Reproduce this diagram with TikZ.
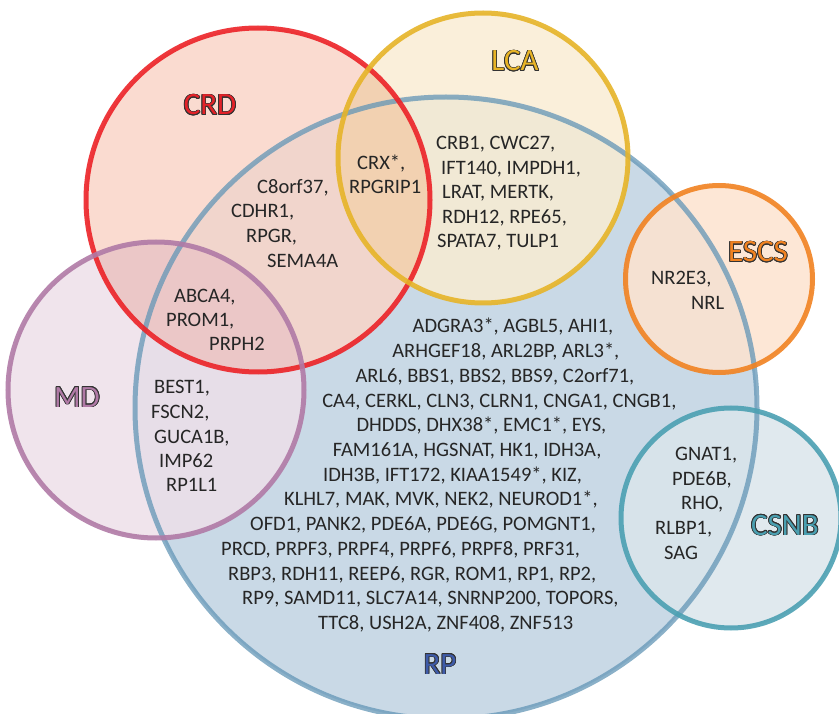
\documentclass[tikz,border=0pt]{standalone}
\usepackage{fontspec}
\setmainfont{Carlito}
\usepackage{contour}
\contourlength{0.8pt}

\definecolor{genetext}{HTML}{262626}
\definecolor{fillrp}{HTML}{C9D9E6}
\definecolor{linerp}{HTML}{6396B6}
\definecolor{textrp}{HTML}{3E5BA8}
\definecolor{fillcrd}{HTML}{F9D5C8}
\definecolor{linecrd}{HTML}{EC2227}
\definecolor{textcrd}{HTML}{E32228}
\definecolor{filllca}{HTML}{F9ECD3}
\definecolor{linelca}{HTML}{E6B428}
\definecolor{textlca}{HTML}{E8B426}
\definecolor{fillmd}{HTML}{EDDFE9}
\definecolor{linemd}{HTML}{B07AA6}
\definecolor{textmd}{HTML}{B07AA6}
\definecolor{fillescs}{HTML}{FDE3CF}
\definecolor{lineescs}{HTML}{F18221}
\definecolor{textescs}{HTML}{F08221}
\definecolor{fillcsnb}{HTML}{DAE5EB}
\definecolor{linecsnb}{HTML}{4BA0B2}
\definecolor{textcsnb}{HTML}{4A9FB0}
\definecolor{crdlca}{HTML}{EFC29D}
\definecolor{crdmd}{HTML}{EAB9B5}

\begin{document}
\begin{tikzpicture}[x=1pt, y=-1pt,
	gene/.style={inner sep=0pt, text=genetext, font=\fontsize{20.5}{24.7}\selectfont},
	title/.style={inner sep=0pt, anchor=base, font=\fontsize{31}{31}\selectfont},
	ring/.style={line width=5pt}]

	\useasboundingbox (0,0) rectangle (839,714);

	% circle centres
	\coordinate (rp) at (446,408);
	\coordinate (crd) at (258,200);
	\coordinate (lca) at (483,158);
	\coordinate (md) at (156,390);
	\coordinate (escs) at (719,279);
	\coordinate (csnb) at (731,518);

	% fills
	\fill [fillrp] (rp) circle [radius=311pt];
	\foreach \c/\r in {crd/172, lca/145, md/148, escs/93.5, csnb/110}
		\fill [fill=fill\c, fill opacity=.85] (\c) circle [radius=\r pt];

	\begin{scope}
		\clip (crd) circle [radius=172pt];
		\fill [crdlca, fill opacity=.6] (lca) circle [radius=145pt];
		\fill [crdmd, fill opacity=.6] (md) circle [radius=148pt];
	\end{scope}

	% outlines
	\draw [ring, draw=linerp, draw opacity=.75] (rp) circle [radius=311pt];
	\foreach \c/\r in {crd/172, lca/145, md/148, escs/93.5, csnb/110}
		\draw [ring, draw=line\c, draw opacity=.9] (\c) circle [radius=\r pt];

	% titles
	\node [title, text=textcrd] (crd-title) at (210,115) {\contour{black!80}{CRD}};
	\node [title, text=textlca] (lca-title) at (515,71) {\contour{black!80}{LCA}};
	\node [title, text=textmd] (md-title) at (77,407) {\contour{black!80}{MD}};
	\node [title, text=textescs] (escs-title) at (758,262) {\contour{black!80}{ESCS}};
	\node [title, text=textcsnb] (csnb-title) at (785,535) {\contour{black!80}{CSNB}};
	\node [title, text=textrp] (rp-title) at (440,674) {\contour{black!80}{RP}};

	% gene lists
	\foreach \x/\y/\t [count=\i] in {257/193.6/{C8orf37,}, 231/217.6/{CDHR1,}, 246/242.6/{RPGR,}, 267/267.6/{SEMA4A}}
		\node [gene, anchor=base west] (crd-\i) at (\x,\y) {\t};

	\foreach \x/\y/\t [count=\i] in {357/169.6/{CRX*,}, 349/193.6/{RPGRIP1}}
		\node [gene, anchor=base west] (crdlca-\i) at (\x,\y) {\t};

	\foreach \x/\y/\t [count=\i] in {436/149.6/{CRB1, CWC27,}, 441/174.6/{IFT140, IMPDH1,}, 442/198.6/{LRAT, MERTK,}, 442/223.6/{RDH12, RPE65,}, 437/247.6/{SPATA7, TULP1}}
		\node [gene, anchor=base west] (lca-\i) at (\x,\y) {\t};

	\foreach \x/\y/\t [count=\i] in {174/302.6/{ABCA4,}, 166/326.6/{PROM1,}, 209/350.6/{PRPH2}}
		\node [gene, anchor=base west] (crdmd-\i) at (\x,\y) {\t};

	\foreach \x/\y/\t [count=\i] in {154/393.6/{BEST1,}, 151/418.6/{FSCN2,}, 154/443.6/{GUCA1B,}, 159/467.6/{IMP62}, 166/491.6/{RP1L1}}
		\node [gene, anchor=base west] (md-\i) at (\x,\y) {\t};

	\foreach \x/\y/\t [count=\i] in {651/284.6/{NR2E3,}, 691/309.6/{NRL}}
		\node [gene, anchor=base west] (escs-\i) at (\x,\y) {\t};

	\foreach \x/\y/\t [count=\i] in {675/460.6/{GNAT1,}, 672/485.6/{PDE6B,}, 681/509.6/{RHO,}, 655/534.6/{RLBP1,}, 664/559.6/{SAG}}
		\node [gene, anchor=base west] (csnb-\i) at (\x,\y) {\t};

	\foreach \x/\a/\t [count=\i] in {
			613.5/east/{ADGRA3*, AGBL5, AHI1,},
			619.5/east/{ARHGEF18, ARL2BP, ARL3*,},
			634.5/east/{ARL6, BBS1, BBS2, BBS9, C2orf71,},
			676.5/east/{CA4, CERKL, CLN3, CLRN1, CNGA1, CNGB1,},
			606.5/east/{DHDDS, DHX38*, EMC1*, EYS,},
			601.5/east/{FAM161A, HGSNAT, HK1, IDH3A,},
			323/west/{IDH3B, IFT172, KIAA1549*, KIZ,},
			284/west/{KLHL7, MAK, MVK, NEK2, NEUROD1*,},
			250/west/{OFD1, PANK2, PDE6A, PDE6G, POMGNT1,},
			221/west/{PRCD, PRPF3, PRPF4, PRPF6, PRPF8, PRF31,},
			228/west/{RBP3, RDH11, REEP6, RGR, ROM1, RP1, RP2,},
			242/west/{RP9, SAMD11, SLC7A14, SNRNP200, TOPORS,},
			318/west/{TTC8, USH2A, ZNF408, ZNF513}}
		\node [gene, anchor=base \a] (rp-\i) at (\x, {333+24.7*(\i-1)}) {\t};
\end{tikzpicture}
\end{document}
